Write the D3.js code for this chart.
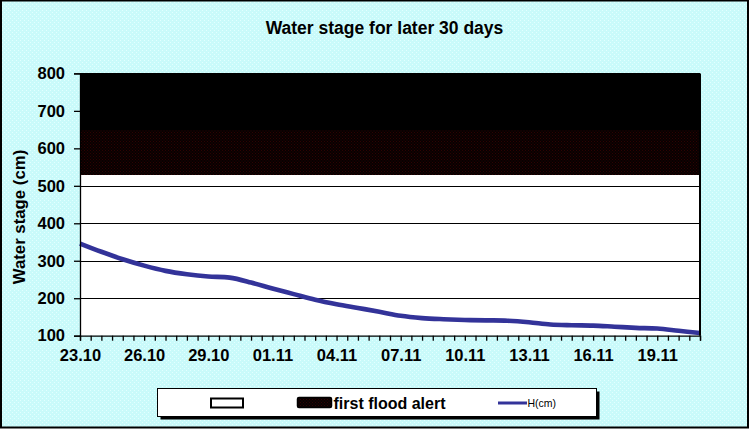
<!DOCTYPE html>
<html>
<head>
<meta charset="utf-8">
<script src="https://cdn.jsdelivr.net/npm/d3@7"></script>
<style>
html,body{margin:0;padding:0;background:#fff;}
svg{display:block;}
text{font-family:"Liberation Sans",Arial,sans-serif;}
</style>
</head>
<body>
<svg id="chart" width="750" height="429"></svg>
<script>
// ---- data ----
const categories = ["23.10","24.10","25.10","26.10","27.10","28.10","29.10","30.10","31.10",
  "01.11","02.11","03.11","04.11","05.11","06.11","07.11","08.11","09.11","10.11","11.11",
  "12.11","13.11","14.11","15.11","16.11","17.11","18.11","19.11","20.11","21.11"];
const waterStage = [346,324,304,287,273,264,258,255,242,226,211,196,184,174,164,153,147,144,
  142,141,140,136,130,128,127,124,121,119,113,107];
const tickLabels = ["23.10","26.10","29.10","01.11","04.11","07.11","10.11","13.11","16.11","19.11"];
const yTicks = [100,200,300,400,500,600,700,800];
const bandNames = ["", "first flood alert", ""];
const bandBottom = [100, 528, 648];
const bandTop = [528, 648, 800];
const lineName = "H(cm)";
const titleText = "Water stage for later 30 days";
const yTitle = "Water stage (cm)";

// ---- layout ----
const svg = d3.select("#chart");
const W = 750, H = 429;
const plot = {left: 80, right: 700, top: 73.4, bottom: 335.7};

const defs = svg.append("defs");
const pat = defs.append("pattern").attr("id","alertPat").attr("patternUnits","userSpaceOnUse")
  .attr("width",3).attr("height",3);
pat.append("rect").attr("width",3).attr("height",3).attr("fill","#080000");
pat.append("rect").attr("x",0).attr("y",0).attr("width",1).attr("height",1).attr("fill","#2e0202");
pat.append("rect").attr("x",1.5).attr("y",1.5).attr("width",1).attr("height",1).attr("fill","#260202");

const bg = defs.append("pattern").attr("id","bgPat").attr("patternUnits","userSpaceOnUse")
  .attr("width",4).attr("height",4);
bg.append("rect").attr("width",4).attr("height",4).attr("fill","#c9fafa");
bg.append("rect").attr("x",0).attr("y",0).attr("width",1).attr("height",1).attr("fill","#e2ffff");
bg.append("rect").attr("x",2).attr("y",2).attr("width",1).attr("height",1).attr("fill","#e2ffff");

// background
svg.append("rect").attr("x",1).attr("y",0.5).attr("width",W-3).attr("height",H-2)
  .attr("fill","url(#bgPat)").attr("stroke","#000").attr("stroke-width",2);

const x = d3.scaleLinear().domain([0, categories.length-1]).range([plot.left, plot.right]);
const y = d3.scaleLinear().domain([100, 800]).range([plot.bottom, plot.top]);

// plot area
svg.append("rect").attr("x",plot.left).attr("y",plot.top)
  .attr("width",plot.right-plot.left).attr("height",plot.bottom-plot.top).attr("fill","#fff");

// gridlines
svg.append("g").selectAll("line").data(yTicks.filter(d=>d>100)).join("line")
  .attr("x1",plot.left).attr("x2",plot.right)
  .attr("y1",d=>Math.round(y(d))+0.5).attr("y2",d=>Math.round(y(d))+0.5)
  .attr("stroke","#000").attr("stroke-width",1.2);

// bands
const bandFills = ["#ffffff","url(#alertPat)","#000000"];
bandNames.forEach((nm,i)=>{
  const area = d3.area().x((d,j)=>x(j)).y0(()=>Math.round(y(bandBottom[i]))).y1(()=>Math.round(y(bandTop[i])));
  if (i>0) svg.append("path").datum(categories).attr("d",area).attr("fill",bandFills[i])
    .attr("shape-rendering","crispEdges");
});

// line
const line = d3.line().x((d,i)=>x(i)).y(d=>y(d)).curve(d3.curveCatmullRom.alpha(0.5));
svg.append("path").datum(waterStage).attr("d",line).attr("fill","none")
  .attr("stroke","#333399").attr("stroke-width",4.6).attr("stroke-linejoin","round");

// right border
svg.append("line").attr("x1",plot.right).attr("x2",plot.right).attr("y1",plot.top).attr("y2",plot.bottom)
  .attr("stroke","#000").attr("stroke-width",2);

// y axis
const yAxis = d3.axisLeft(y).tickValues(yTicks).tickSize(6).tickPadding(9).tickFormat(d3.format("d"));
const gy = svg.append("g").attr("transform",`translate(${plot.left},0)`).call(yAxis);
gy.select(".domain").attr("stroke","#000").attr("stroke-width",1.3);
gy.selectAll(".tick line").attr("stroke","#000").attr("stroke-width",1.3);
gy.selectAll(".tick text").attr("font-size","16.5px").attr("font-weight","bold").attr("fill","#000")
  .attr("font-family","'Liberation Sans',Arial,sans-serif");

// x axis
const halfTicks = d3.range(0, categories.length-0.99, 0.5);
const xAxis = d3.axisBottom(x).tickValues(halfTicks).tickSize(5).tickPadding(9)
  .tickFormat(d => (Number.isInteger(d) && tickLabels.includes(categories[d])) ? categories[d] : "");
const gx = svg.append("g").attr("transform",`translate(0,${plot.bottom})`).call(xAxis);
gx.select(".domain").attr("stroke","#000").attr("stroke-width",1.3);
gx.selectAll(".tick line").attr("stroke","#000").attr("stroke-width",1.3);
gx.selectAll(".tick text").attr("font-size","16.5px").attr("font-weight","bold").attr("fill","#000")
  .attr("font-family","'Liberation Sans',Arial,sans-serif");

// titles
svg.append("text").attr("x",384.5).attr("y",33.5).attr("text-anchor","middle")
  .attr("font-size","17.5px").attr("font-weight","bold").text(titleText);
svg.append("text").attr("transform","translate(25,217) rotate(-90)").attr("text-anchor","middle")
  .attr("font-size","16.8px").attr("font-weight","bold").text(yTitle);

// legend
const lg = svg.append("g");
lg.append("rect").attr("x",160.5).attr("y",391.5).attr("width",439).attr("height",28).attr("fill","#000");
lg.append("rect").attr("x",157.5).attr("y",388.5).attr("width",439).attr("height",28)
  .attr("fill","#fff").attr("stroke","#000").attr("stroke-width",1);
lg.append("rect").attr("x",211).attr("y",398.5).attr("width",32).attr("height",9)
  .attr("fill","#fff").attr("stroke","#000").attr("stroke-width",2);
lg.append("rect").attr("x",297.5).attr("y",397.5).attr("width",34).attr("height",10)
  .attr("fill","url(#alertPat)").attr("stroke","#000").attr("stroke-width",1.5).attr("rx",1.5);
lg.append("text").attr("x",333.5).attr("y",408.5).attr("font-size","16px").attr("font-weight","bold")
  .text(bandNames[1]);
lg.append("line").attr("x1",498).attr("x2",527).attr("y1",403).attr("y2",403)
  .attr("stroke","#333399").attr("stroke-width",3);
lg.append("text").attr("x",527.5).attr("y",406.8).attr("font-size","10.5px").text(lineName);
</script>
</body>
</html>
